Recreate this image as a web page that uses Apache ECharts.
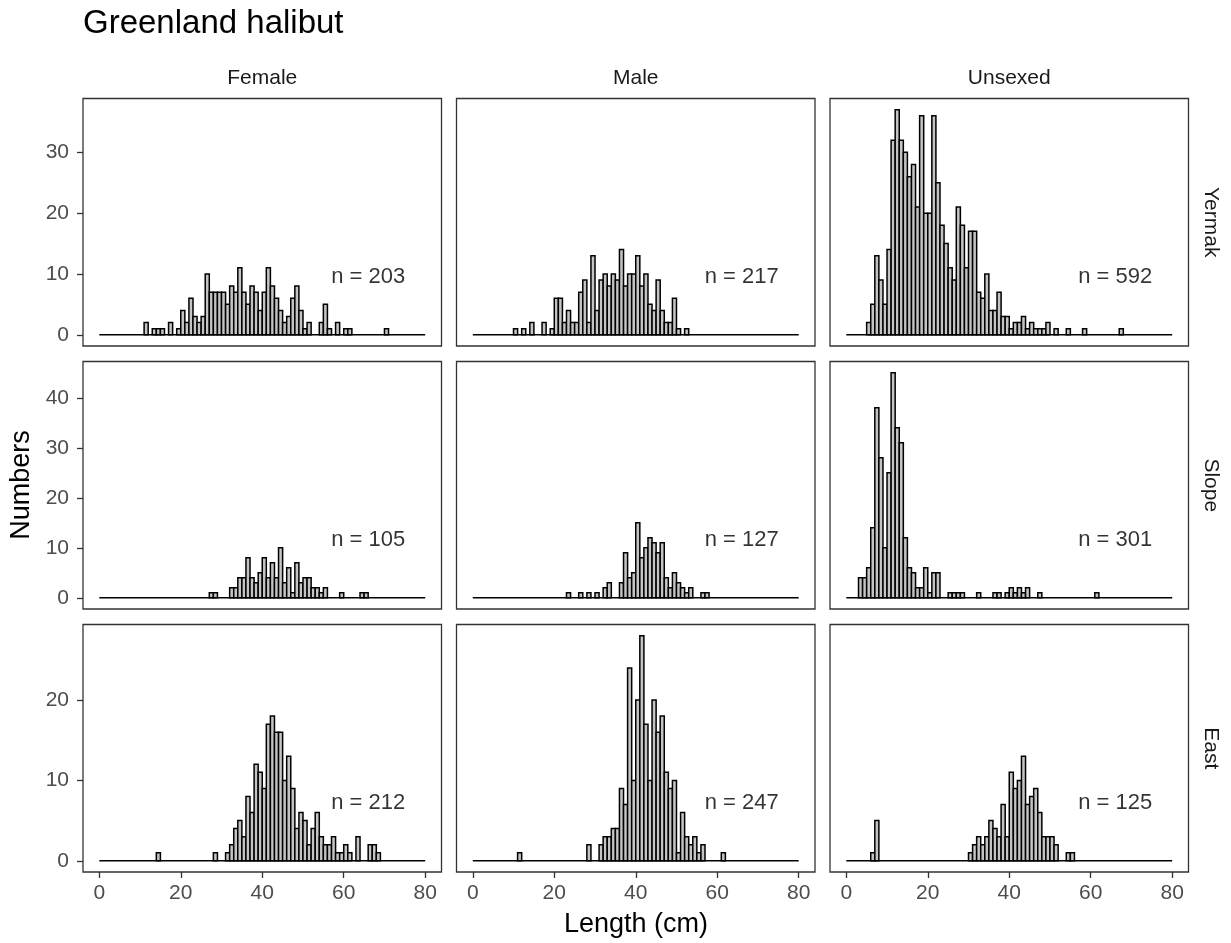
<!DOCTYPE html>
<html>
<head>
<meta charset="utf-8">
<script src="https://cdn.jsdelivr.net/npm/echarts@6/dist/echarts.min.js"></script>
<style>
  html, body { margin: 0; padding: 0; background: #ffffff; }
  #chart { width: 1231px; height: 943px; }
</style>
</head>
<body>
<div id="chart"></div>
<script>
// Facet labels
const sexes = ['Female', 'Male', 'Unsexed'];
const regions = ['Yermak', 'Slope', 'East'];

// Tick labels
const xTicks = [0, 20, 40, 60, 80];
const yTicksYermak = [0, 10, 20, 30];
const yTicksSlope = [0, 10, 20, 30, 40];
const yTicksEast = [0, 10, 20];

// Sample sizes printed in each panel (cols: Female, Male, Unsexed)
const nYermak = [203, 217, 592];
const nSlope = [105, 127, 301];
const nEast = [212, 247, 125];

// Counts per 1-cm length bin: bin k covers k..k+1 cm, k = 0..79
const yermakFemale = [
  0,0,0,0,0,0,0,0,0,0,
  0,2,0,1,1,1,0,2,0,1,
  4,2,6,3,2,3,10,7,7,7,
  7,5,8,7,11,7,5,8,7,4,
  7,11,8,6,4,2,3,6,8,4,
  1,2,0,0,2,5,1,0,2,0,
  1,1,0,0,0,0,0,0,0,0,
  1,0,0,0,0,0,0,0,0,0
];
const yermakMale = [
  0,0,0,0,0,0,0,0,0,0,
  1,0,1,0,2,0,0,2,0,1,
  6,6,2,4,2,2,7,9,2,13,
  4,9,10,8,10,9,14,8,10,10,
  13,8,10,5,4,9,4,2,2,6,
  1,0,1,0,0,0,0,0,0,0,
  0,0,0,0,0,0,0,0,0,0,
  0,0,0,0,0,0,0,0,0,0
];
const yermakUnsexed = [
  0,0,0,0,0,2,5,13,9,5,
  14,32,37,32,30,26,28,21,36,20,
  20,36,25,18,15,11,9,21,18,11,
  17,17,7,6,10,4,4,7,3,3,
  1,2,2,3,1,2,1,1,1,2,
  0,1,0,0,1,0,0,0,1,0,
  0,0,0,0,0,0,0,1,0,0,
  0,0,0,0,0,0,0,0,0,0
];
const slopeFemale = [
  0,0,0,0,0,0,0,0,0,0,
  0,0,0,0,0,0,0,0,0,0,
  0,0,0,0,0,0,0,1,1,0,
  0,0,2,2,4,4,8,4,3,5,
  8,4,7,4,10,3,6,1,7,3,
  4,4,2,2,1,2,0,0,0,1,
  0,0,0,0,1,1,0,0,0,0,
  0,0,0,0,0,0,0,0,0,0
];
const slopeMale = [
  0,0,0,0,0,0,0,0,0,0,
  0,0,0,0,0,0,0,0,0,0,
  0,0,0,1,0,0,1,0,1,0,
  1,0,2,3,0,0,3,9,4,5,
  15,8,10,12,11,9,11,4,2,5,
  3,2,1,2,0,0,1,1,0,0,
  0,0,0,0,0,0,0,0,0,0,
  0,0,0,0,0,0,0,0,0,0
];
const slopeUnsexed = [
  0,0,0,4,4,6,14,38,28,10,
  25,45,34,31,12,6,5,2,2,6,
  1,5,5,0,0,1,1,1,1,0,
  0,0,1,0,0,0,1,1,0,1,
  2,1,2,1,2,0,0,1,0,0,
  0,0,0,0,0,0,0,0,0,0,
  0,1,0,0,0,0,0,0,0,0,
  0,0,0,0,0,0,0,0,0,0
];
const eastFemale = [
  0,0,0,0,0,0,0,0,0,0,
  0,0,0,0,1,0,0,0,0,0,
  0,0,0,0,0,0,0,0,1,0,
  0,1,2,4,5,3,8,6,12,11,
  9,17,18,16,16,10,13,9,4,6,
  5,2,4,6,3,2,2,3,1,1,
  2,1,0,3,0,0,2,2,1,0,
  0,0,0,0,0,0,0,0,0,0
];
const eastMale = [
  0,0,0,0,0,0,0,0,0,0,
  0,1,0,0,0,0,0,0,0,0,
  0,0,0,0,0,0,0,0,2,0,
  0,2,3,3,4,4,9,7,24,10,
  20,28,17,10,20,16,18,11,9,10,
  1,6,3,2,3,1,2,0,0,0,
  0,1,0,0,0,0,0,0,0,0,
  0,0,0,0,0,0,0,0,0,0
];
const eastUnsexed = [
  0,0,0,0,0,0,1,5,0,0,
  0,0,0,0,0,0,0,0,0,0,
  0,0,0,0,0,0,0,0,0,0,
  1,2,3,2,3,5,4,3,7,3,
  11,9,10,13,7,8,9,6,3,3,
  3,2,0,0,1,1,0,0,0,0,
  0,0,0,0,0,0,0,0,0,0,
  0,0,0,0,0,0,0,0,0,0
];

const panelCounts = [
  [yermakFemale, yermakMale, yermakUnsexed],
  [slopeFemale, slopeMale, slopeUnsexed],
  [eastFemale, eastMale, eastUnsexed]
];
const panelN = [nYermak, nSlope, nEast];
const rowTicks = [yTicksYermak, yTicksSlope, yTicksEast];

// Layout of the 3x3 facet grid (pixels)
const FONT = '"Liberation Sans", Arial, Helvetica, sans-serif';
const colLeft = [83, 456.5, 830];
const rowTop = [98.5, 361.5, 624.5];
const panelW = 358.5;
const panelH = 247.5;
const OUTLINE = 1.5;

const grids = [], xAxes = [], yAxes = [], series = [];

for (let r = 0; r < 3; r++) {
  // free y scale per row, padded 5% on both sides
  const rowMax = Math.max(...panelCounts[r].map(a => Math.max(...a)));
  for (let c = 0; c < 3; c++) {
    const idx = r * 3 + c;
    const counts = panelCounts[r][c];
    grids.push({
      left: colLeft[c], top: rowTop[r], width: panelW, height: panelH,
      show: true, backgroundColor: '#ffffff', borderColor: '#333333', borderWidth: 1.3,
      containLabel: false, outerBoundsMode: 'none'
    });
    const bottomRow = r === 2;
    const leftCol = c === 0;
    xAxes.push({
      type: 'value', gridIndex: idx, min: -4, max: 84, position: 'bottom',
      splitLine: { show: false },
      axisLine: { show: false, onZero: false },
      axisTick: { show: bottomRow, length: 6, customValues: xTicks,
                  lineStyle: { color: '#333333', width: 1.3 } },
      axisLabel: { show: bottomRow, customValues: xTicks, margin: 11,
                   color: '#4D4D4D', fontSize: 21, fontFamily: FONT }
    });
    yAxes.push({
      type: 'value', gridIndex: idx, min: -0.05 * rowMax, max: 1.05 * rowMax, position: 'left',
      splitLine: { show: false },
      axisLine: { show: false, onZero: false },
      axisTick: { show: leftCol, length: 6, customValues: rowTicks[r],
                  lineStyle: { color: '#333333', width: 1.3 } },
      axisLabel: { show: leftCol, customValues: rowTicks[r], margin: 14,
                   color: '#4D4D4D', fontSize: 21, fontFamily: FONT }
    });
    // baseline under the histogram, spanning all bins
    series.push({
      type: 'custom', xAxisIndex: idx, yAxisIndex: idx,
      data: [[0, counts.length]],
      encode: { x: [0, 1] },
      renderItem: function (params, api) {
        const a = api.coord([api.value(0), 0]);
        const b = api.coord([api.value(1), 0]);
        return {
          type: 'line',
          shape: { x1: a[0], y1: a[1], x2: b[0], y2: b[1] },
          style: { stroke: '#000000', lineWidth: OUTLINE + 0.2 }
        };
      },
      z: 1, animation: false, silent: true
    });
    // histogram bars
    series.push({
      type: 'custom', xAxisIndex: idx, yAxisIndex: idx,
      data: counts.map((v, k) => [k, k + 1, v]).filter(d => d[2] > 0),
      encode: { x: [0, 1], y: 2 },
      renderItem: function (params, api) {
        const p0 = api.coord([api.value(0), 0]);
        const p1 = api.coord([api.value(1), api.value(2)]);
        return {
          type: 'rect',
          shape: { x: p0[0], y: p1[1], width: p1[0] - p0[0], height: p0[1] - p1[1] },
          style: { fill: '#C4C4C4', stroke: '#000000', lineWidth: OUTLINE }
        };
      },
      z: 2, animation: false, silent: true
    });
    // sample size annotation
    series.push({
      type: 'scatter', xAxisIndex: idx, yAxisIndex: idx,
      data: [[66, 0.255 * rowMax]],
      symbolSize: 1, itemStyle: { color: 'rgba(0,0,0,0)' },
      label: { show: true, position: 'inside', formatter: 'n = ' + panelN[r][c],
               fontSize: 22, color: '#000000', fontFamily: FONT },
      z: 3, animation: false, silent: true
    });
  }
}

const graphics = [
  { type: 'text', x: 83, y: 24,
    style: { text: 'Greenland halibut', font: '33px ' + FONT, fill: '#000000',
             textAlign: 'left', textVerticalAlign: 'middle' } },
  { type: 'text', x: 636, y: 925,
    style: { text: 'Length (cm)', font: '27px ' + FONT, fill: '#000000',
             textAlign: 'center', textVerticalAlign: 'middle' } },
  { type: 'text', x: 22, y: 485, rotation: Math.PI / 2,
    style: { text: 'Numbers', font: '27px ' + FONT, fill: '#000000',
             textAlign: 'center', textVerticalAlign: 'middle' } }
];
sexes.forEach((s, c) => {
  graphics.push({ type: 'text', x: colLeft[c] + panelW / 2, y: 78,
    style: { text: s, font: '21px ' + FONT, fill: '#1A1A1A',
             textAlign: 'center', textVerticalAlign: 'middle' } });
});
regions.forEach((s, r) => {
  graphics.push({ type: 'text', x: 1211, y: rowTop[r] + panelH / 2, rotation: -Math.PI / 2,
    style: { text: s, font: '21px ' + FONT, fill: '#1A1A1A',
             textAlign: 'center', textVerticalAlign: 'middle' } });
});

const chart = echarts.init(document.getElementById('chart'), null, { renderer: 'canvas' });
chart.setOption({
  backgroundColor: '#ffffff',
  animation: false,
  grid: grids,
  xAxis: xAxes,
  yAxis: yAxes,
  series: series,
  graphic: graphics
});
</script>
</body>
</html>
